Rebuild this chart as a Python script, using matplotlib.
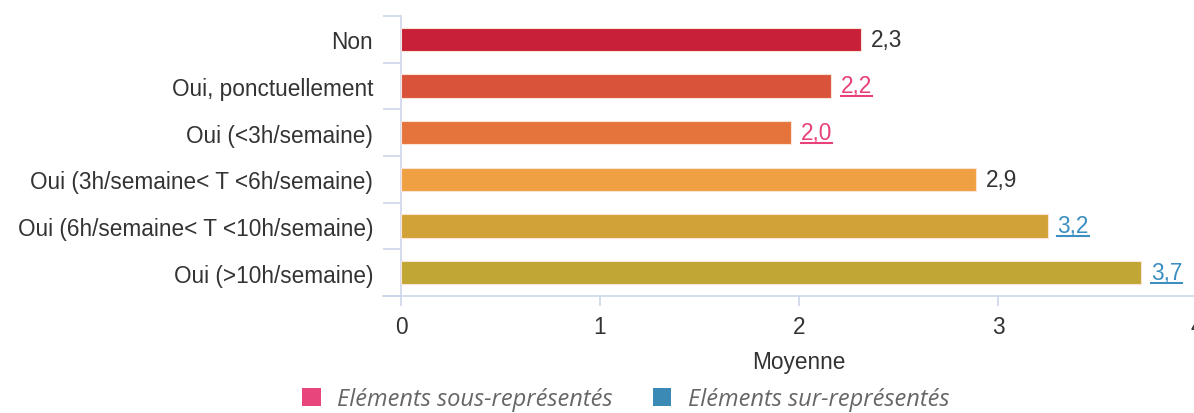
import matplotlib.pyplot as plt
from matplotlib.patches import Patch

categories = [
    "Non",
    "Oui, ponctuellement",
    "Oui (<3h/semaine)",
    "Oui (3h/semaine< T <6h/semaine)",
    "Oui (6h/semaine< T <10h/semaine)",
    "Oui (>10h/semaine)",
]
values = [2.31, 2.16, 1.96, 2.89, 3.25, 3.72]
# "sous" = under-represented, "sur" = over-represented, "" = neutral
status = ["", "sous", "sous", "", "sur", "sur"]
bar_colors = ["#c82038", "#d9533a", "#e5733c", "#efa042", "#d1a237", "#c0a634"]
x_ticks = [0, 1, 2, 3, 4]

label_colors = {"": "#333333", "sous": "#e8407a", "sur": "#3d8fc1"}
axis_color = "#ccd6eb"
font = "Liberation Sans"
fs = 16.3

fig = plt.figure(figsize=(11.94, 4.14), dpi=100)
ax = fig.add_axes([401 / 1194, 117 / 414, 796 / 1194, 280 / 414])

y = list(range(len(categories)))
ax.barh(y, values, height=0.5, color=bar_colors, edgecolor="#fbe3d6",
        linewidth=0.8, zorder=3)

ax.set_xlim(0, 4)
ax.set_ylim(len(categories) - 0.5, -0.5)

ax.set_yticks(y)
ax.set_yticklabels(categories, fontfamily=font, fontsize=fs, color="#333333")
ax.set_yticks([i - 0.5 for i in range(len(categories) + 1)], minor=True)
ax.tick_params(axis="y", which="major", length=0, pad=20)
ax.tick_params(axis="y", which="minor", length=13, width=1.2, color=axis_color)

ax.set_xticks(x_ticks)
ax.set_xticklabels([str(t) for t in x_ticks], fontfamily=font, fontsize=fs,
                   color="#333333")
ax.tick_params(axis="x", length=7, width=1.2, color=axis_color, pad=7)
ax.set_xlabel("Moyenne", fontfamily=font, fontsize=fs, color="#333333",
              labelpad=8)

for side in ["top", "right"]:
    ax.spines[side].set_visible(False)
for side in ["left", "bottom"]:
    ax.spines[side].set_color(axis_color)
    ax.spines[side].set_linewidth(1.2)
ax.spines["bottom"].set_bounds(-18 / 199, 4)

# value labels at the end of each bar, underlined when flagged
texts = []
for yi, v, st in zip(y, values, status):
    t = ax.annotate(f"{v:.1f}".replace(".", ","), (v, yi),
                    xytext=(7, 0), textcoords="offset points",
                    va="center", ha="left", fontfamily=font, fontsize=fs,
                    color=label_colors[st])
    texts.append((t, st))

fig.canvas.draw()
renderer = fig.canvas.get_renderer()
inv = fig.transFigure.inverted()
for t, st in texts:
    if not st:
        continue
    bb = t.get_window_extent(renderer)
    (x0, y0), (x1, _) = inv.transform([(bb.x0, bb.y0), (bb.x1, bb.y0)])
    fig.add_artist(plt.Line2D([x0, x1], [y0 + 1.5 / 414, y0 + 1.5 / 414],
                              color=label_colors[st], lw=1.5))

handles = [Patch(facecolor="#e8457c", label="Eléments sous-représentés"),
           Patch(facecolor="#3a8ab5", label="Eléments sur-représentés")]
fig.legend(handles=handles, loc="lower center", bbox_to_anchor=(0.524, -0.035),
           ncol=2, frameon=False, handlelength=0.78, handleheight=0.78,
           handletextpad=0.7, columnspacing=1.7, borderpad=0.2,
           prop={"family": "Open Sans", "style": "italic", "size": 17},
           labelcolor="#666666")

fig.savefig("out.png", dpi=100)
